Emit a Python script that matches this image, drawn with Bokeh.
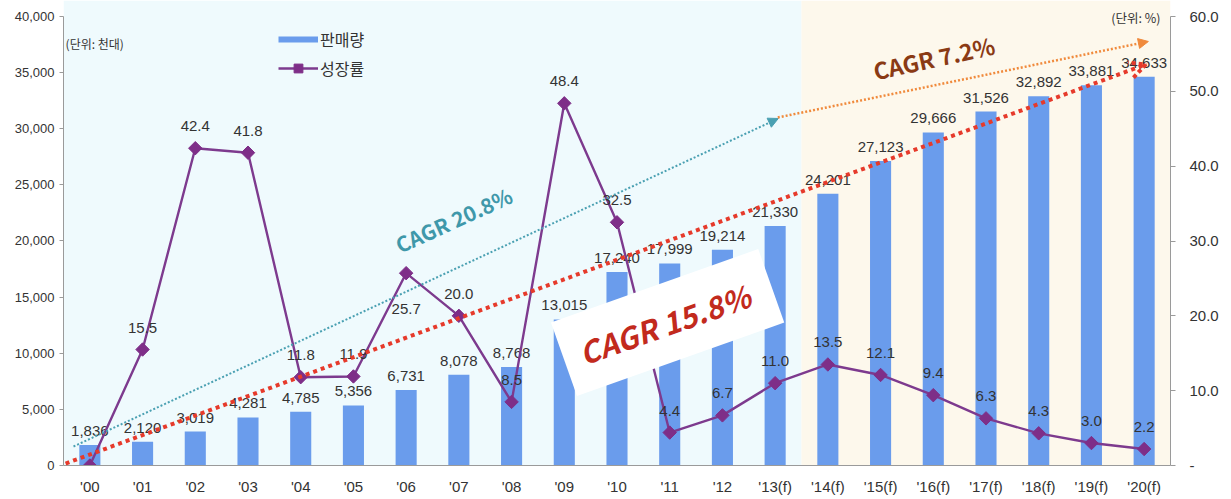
from bokeh.plotting import figure
from bokeh.models import (Range1d, FactorRange, LinearAxis, FixedTicker, NumeralTickFormatter,
                          BoxAnnotation, Arrow, NormalHead, OpenHead, Label, Legend, LegendItem,
                          ColumnDataSource)
from bokeh.core.properties import value
from bokeh.embed import file_html
from bokeh.resources import INLINE

# ---------------- data ----------------
years = ["'00", "'01", "'02", "'03", "'04", "'05", "'06", "'07", "'08", "'09", "'10",
         "'11", "'12", "'13(f)", "'14(f)", "'15(f)", "'16(f)", "'17(f)", "'18(f)",
         "'19(f)", "'20(f)"]
sales = [1836, 2120, 3019, 4281, 4785, 5356, 6731, 8078, 8768, 13015, 17240,
         17999, 19214, 21330, 24201, 27123, 29666, 31526, 32892, 33881, 34633]
growth = [0.0, 15.5, 42.4, 41.8, 11.8, 11.9, 25.7, 20.0, 8.5, 48.4, 32.5,
          4.4, 6.7, 11.0, 13.5, 12.1, 9.4, 6.3, 4.3, 3.0, 2.2]
left_ticks = [0, 5000, 10000, 15000, 20000, 25000, 30000, 35000, 40000]
right_ticks = [0, 10, 20, 30, 40, 50, 60]
cagr_labels = ["CAGR 20.8%", "CAGR  15.8%", "CAGR  7.2%"]
legend_labels = ["판매량", "성장률"]
unit_labels = ["(단위: 천대)", "(단위: %)"]

# ---------------- style ----------------
BAR = "#6A9CEC"
PURPLE = "#7D3A8E"
TEAL = "#4AA0B2"
ORANGE = "#F08A3C"
RED = "#E63A2B"
NUM_FONT = "Liberation Sans"
KR_FONT = "Noto Sans CJK KR"
TXT = "#333333"
AX = "#9A9A9A"

p = figure(width=1231, height=499,
           x_range=FactorRange(*years),
           y_range=Range1d(0, 41425),
           output_backend="svg", toolbar_location=None,
           min_border_left=63, min_border_right=61,
           min_border_top=0, min_border_bottom=34)
p.extra_y_ranges = {"g": Range1d(0, 62.14)}
p.grid.visible = False
p.outline_line_color = None
p.background_fill_color = "white"

# background tint: actual (cyan) vs forecast (cream)
p.add_layout(BoxAnnotation(left=0, right=14, fill_color="#EFFAFD", fill_alpha=1,
                           line_color=None, level="underlay"))
p.add_layout(BoxAnnotation(left=14, right=21, fill_color="#FDF8EC", fill_alpha=1,
                           line_color=None, level="underlay"))

# axes
ya = p.yaxis[0]
ya.ticker = FixedTicker(ticks=left_ticks)
ya.formatter = NumeralTickFormatter(format="0,0")
ya.bounds = (0, 40000)
ya.minor_tick_line_color = None
ya.axis_line_color = AX
ya.major_tick_line_color = AX
ya.major_tick_out = 4
ya.major_tick_in = 0
ya.major_label_standoff = 5
ya.major_label_text_font = NUM_FONT
ya.major_label_text_font_size = "13px"
ya.major_label_text_color = TXT

ra = LinearAxis(y_range_name="g", ticker=FixedTicker(ticks=right_ticks),
                formatter=NumeralTickFormatter(format="0.0"),
                major_label_overrides={0: "-"}, bounds=(0, 60))
ra.minor_tick_line_color = None
ra.axis_line_color = AX
ra.major_tick_line_color = AX
ra.major_tick_out = 5
ra.major_tick_in = 0
ra.major_label_standoff = 14
ra.major_label_text_font = NUM_FONT
ra.major_label_text_font_size = "15px"
ra.major_label_text_color = TXT
p.add_layout(ra, "right")

xa = p.xaxis[0]
xa.axis_line_color = AX
xa.major_tick_line_color = None
xa.major_tick_out = 0
xa.major_label_standoff = 12
xa.major_label_text_font = NUM_FONT
xa.major_label_text_font_size = "15px"
xa.major_label_text_color = TXT

# bars
src = ColumnDataSource(dict(
    x=years, sales=sales, growth=growth,
    sales_txt=[f"{v:,}" for v in sales],
    growth_txt=[""] + [f"{v:.1f}" for v in growth[1:]],
    g_off=[36 if y == "'06" else -22 for y in years],
))
bars = p.vbar(x="x", top="sales", width=0.4, source=src, fill_color=BAR, line_color=None)
p.text(x="x", y="sales", text="sales_txt", source=src, text_align="center",
       text_baseline="middle", y_offset=-14, text_font=value(NUM_FONT),
       text_font_size=value("15px"), text_color=TXT)

# growth line
gl = p.line(x="x", y="growth", source=src, y_range_name="g", line_color=PURPLE, line_width=2.4)
gs = p.scatter(x="x", y="growth", source=src, y_range_name="g", marker="square",
               angle=0.785398, size=9.5, fill_color="#7E2E88", line_color="#7E2E88")
p.text(x="x", y="growth", text="growth_txt", source=src, y_range_name="g",
       text_align="center", text_baseline="middle", y_offset="g_off",
       text_font=value(NUM_FONT), text_font_size=value("15px"), text_color=TXT)

# CAGR trend arrows
p.add_layout(Arrow(x_start=0.19, y_start=1693, x_end=13.56, y_end=30914,
                   line_color=TEAL, line_width=2, line_dash="2 2",
                   end=NormalHead(size=10, fill_color=TEAL, line_color=TEAL)))
p.add_layout(Arrow(x_start=13.55, y_start=31003, x_end=20.58, y_end=37774,
                   line_color=ORANGE, line_width=2.5, line_dash="2 2",
                   end=NormalHead(size=10, fill_color=ORANGE, line_color=ORANGE)))
p.add_layout(Arrow(x_start=0.04, y_start=178, x_end=20.53, y_end=35725,
                   line_color=RED, line_width=4, line_dash="4 4",
                   end=OpenHead(size=16, line_color=RED, line_width=4, line_dash="4 3")))

p.add_layout(Label(x=7.40, y=21900, text=cagr_labels[0], angle=24.5, angle_units="deg",
                   text_align="center", text_baseline="middle", text_font=KR_FONT,
                   text_font_style="bold", text_font_size="21px", text_color="#3F98AA"))
p.add_layout(Label(x=11.46, y=12740, text=cagr_labels[1], angle=19.5, angle_units="deg",
                   text_align="center", text_baseline="middle", text_font=KR_FONT,
                   text_font_style="bold italic", text_font_size="30px", text_color="#C22A1D",
                   background_fill_color="white", background_fill_alpha=1, padding=17))
p.add_layout(Label(x=16.56, y=36400, text=cagr_labels[2], angle=12.4, angle_units="deg",
                   text_align="center", text_baseline="middle", text_font=KR_FONT,
                   text_font_style="bold", text_font_size="23px", text_color="#8A3A14"))

# unit labels
p.add_layout(Label(x=0.04, y=37596, text=unit_labels[0], text_align="left",
                   text_baseline="middle", text_font=KR_FONT, text_font_size="12px",
                   text_color=TXT))
p.add_layout(Label(x=20.81, y=39912, text=unit_labels[1], text_align="right",
                   text_baseline="middle", text_font=KR_FONT, text_font_size="12.5px",
                   text_color=TXT))

# legend (a thick line swatch stands in for the bar series)
bar_proxy = p.line(x=[years[0], years[0]], y=[float("nan"), float("nan")],
                   line_color=BAR, line_width=6)
legend = Legend(items=[LegendItem(label=legend_labels[0], renderers=[bar_proxy]),
                       LegendItem(label=legend_labels[1], renderers=[gl, gs])],
                location=(215, 385), orientation="vertical",
                glyph_width=40, glyph_height=22, label_height=22, spacing=5,
                padding=0, margin=0, label_standoff=2,
                label_text_font=KR_FONT, label_text_font_size="16px",
                label_text_color=TXT, background_fill_alpha=0, border_line_color=None)
p.add_layout(legend)

open("out.html", "w").write(file_html(p, INLINE))
